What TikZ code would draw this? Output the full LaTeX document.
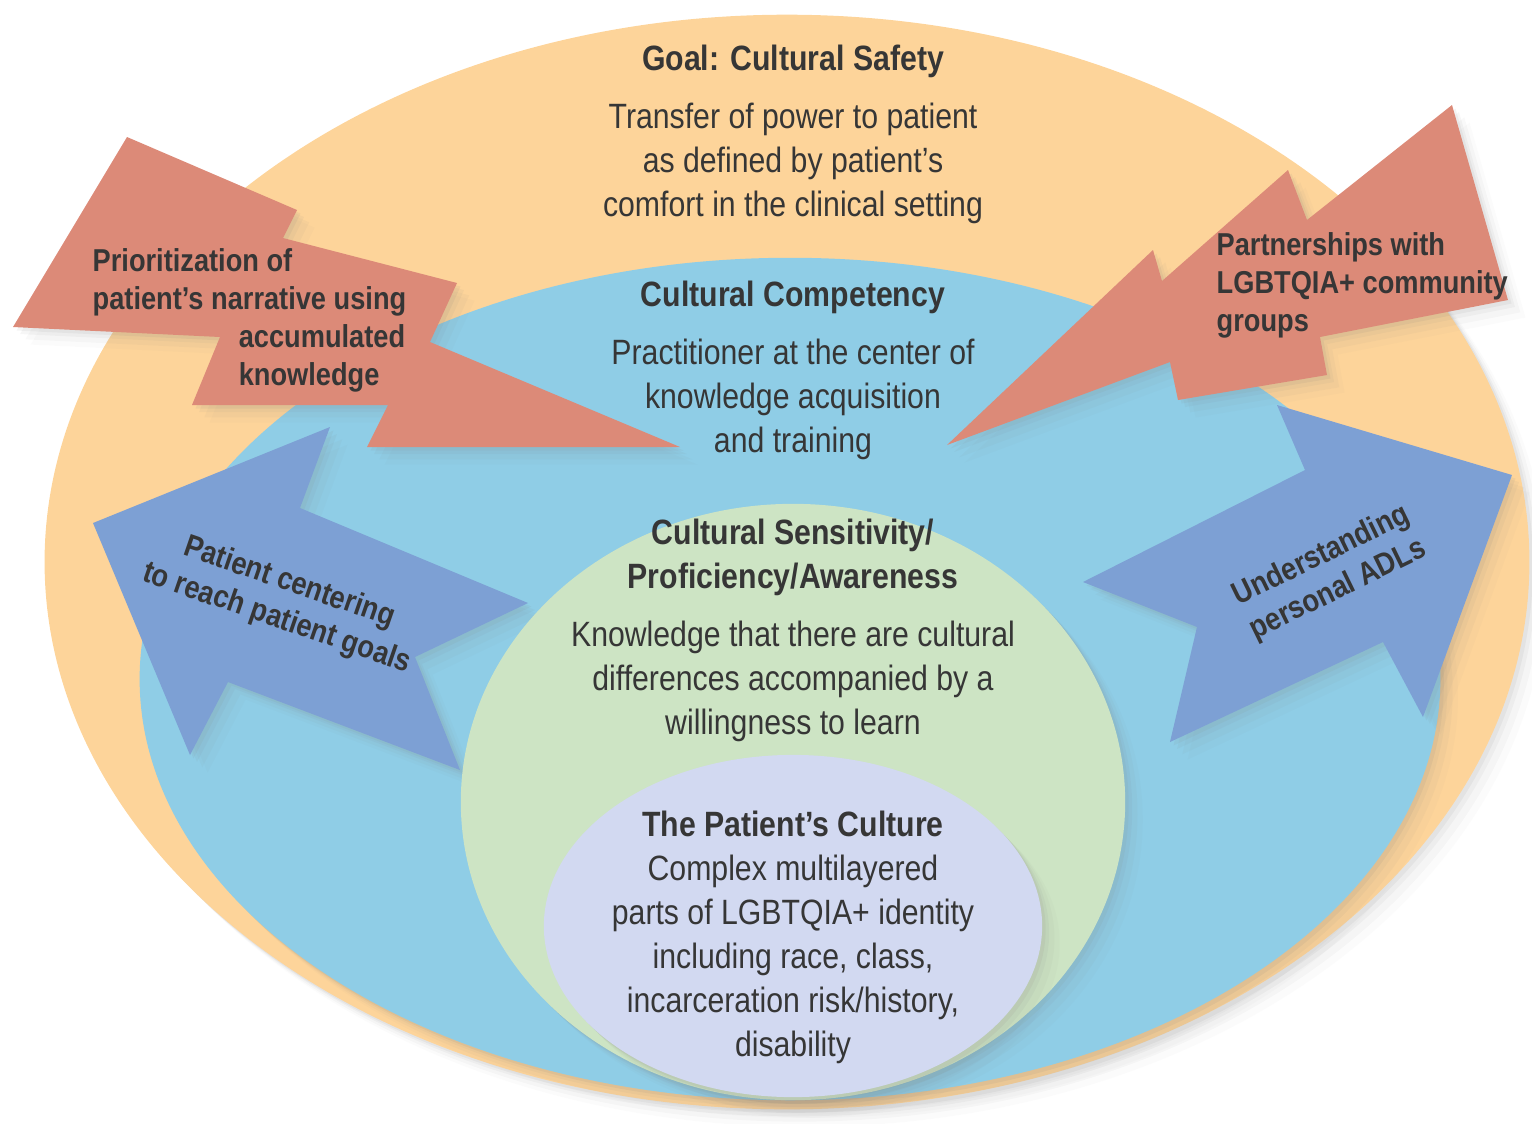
\documentclass[tikz,border=0pt]{standalone}
\usepackage{fontspec}
\setmainfont{Liberation Sans}[FakeStretch=0.86]
\usepackage{tikz}
\usetikzlibrary{shapes.geometric, shadows}
\definecolor{safetyPeach}{HTML}{FDD49A}
\definecolor{competencyBlue}{HTML}{8FCDE6}
\definecolor{sensitivityGreen}{HTML}{CDE4C4}
\definecolor{cultureLilac}{HTML}{D2D9F1}
\definecolor{boltRed}{HTML}{DC8A78}
\definecolor{arrowBlue}{HTML}{7DA0D4}
\definecolor{inkGray}{HTML}{363636}

\begin{document}
\begin{tikzpicture}[x=0.01cm, y=-0.01cm,
        soft/.style={drop shadow={shadow xshift=1pt, shadow yshift=-1pt, opacity=0.09},
            drop shadow={shadow xshift=2pt, shadow yshift=-2pt, opacity=0.07},
            drop shadow={shadow xshift=3.5pt, shadow yshift=-3.5pt, opacity=0.05},
            drop shadow={shadow xshift=5pt, shadow yshift=-5pt, opacity=0.03}},
        ring/.style={ellipse, inner sep=0pt, soft},
        bolt/.style={fill=boltRed, soft},
        swoop/.style={fill=arrowBlue, soft},
        body/.style={align=center, text=inkGray, inner sep=0pt, font=\fontsize{10}{12.5}\selectfont},
        tag/.style={text=inkGray, inner sep=0pt, font=\bfseries\fontsize{9}{10.8}\selectfont}]
        \useasboundingbox (0,0) rectangle (1532,1123);

        % Rings
        \node[ring, fill=safetyPeach, minimum width=14.84cm, minimum height=10.94cm] (safetyRing) at (787,562) {};
        \node[ring, fill=competencyBlue, minimum width=13.0cm, minimum height=8.42cm] (competencyRing) at (790,679) {};

        % Red bolts
        \fill[bolt] (127,137) -- (297,210) -- (283,238) -- (457,283) -- (430,342) -- (680,447)
            -- (367,447) -- (388,405) -- (192,405) -- (220,337) -- (13,327) -- cycle;
        \fill[bolt] (947,445) -- (1153,250) -- (1162,281) -- (1288,170) -- (1307,220) -- (1452,105)
            -- (1508,300) -- (1320,337) -- (1327,375) -- (1178,400) -- (1170,362) -- cycle;

        % Blue arrows
        \fill[swoop] (93,523) -- (330,427) -- (300,508) -- (528,603) -- (415,657) -- (460,770)
            -- (228,682) -- (190,755) -- cycle;
        \fill[swoop] (1083,582) -- (1305,470) -- (1277,405) -- (1512,475) -- (1423,717) -- (1383,642)
            -- (1170,742) -- (1197,627) -- cycle;

        % Inner rings
        \node[ring, fill=sensitivityGreen, minimum width=6.64cm, minimum height=5.96cm] (sensitivityRing) at (793,802) {};
        \node[ring, fill=cultureLilac, minimum width=4.98cm, minimum height=3.42cm] (cultureRing) at (793,926) {};

        % Ring texts
        \node[body] (safety) at (793,134) {\textbf{Goal: Cultural Safety}\\[4pt]
            Transfer of power to patient\\as defined by patient’s\\comfort in the clinical setting};
        \node[body] (competency) at (793,370) {\textbf{Cultural Competency}\\[4pt]
            Practitioner at the center of\\knowledge acquisition\\and training};
        \node[body] (sensitivity) at (793,630) {\textbf{Cultural Sensitivity/}\\\textbf{Proficiency/Awareness}\\[4pt]
            Knowledge that there are cultural\\differences accompanied by a\\willingness to learn};
        \node[body] (culture) at (793,937) {\textbf{The Patient’s Culture}\\Complex multilayered\\parts of LGBTQIA+ identity\\
            including race, class,\\incarceration risk/history,\\disability};

        % Arrow labels
        \node[tag, align=left, anchor=north west] (narrative) at (92,248) {Prioritization of\\patient’s narrative using\\
            \hspace*{1.46cm}accumulated\\\hspace*{1.46cm}knowledge};
        \node[tag, align=left, anchor=north west] (partners) at (1216,232) {Partnerships with\\LGBTQIA+ community\\groups};
        \node[tag, align=center, rotate=-19] (centering) at (283,601) {Patient centering\\to reach patient goals};
        \node[tag, align=center, rotate=26] (adls) at (1330,573) {Understanding\\personal ADLs};
    \end{tikzpicture}
\end{document}
